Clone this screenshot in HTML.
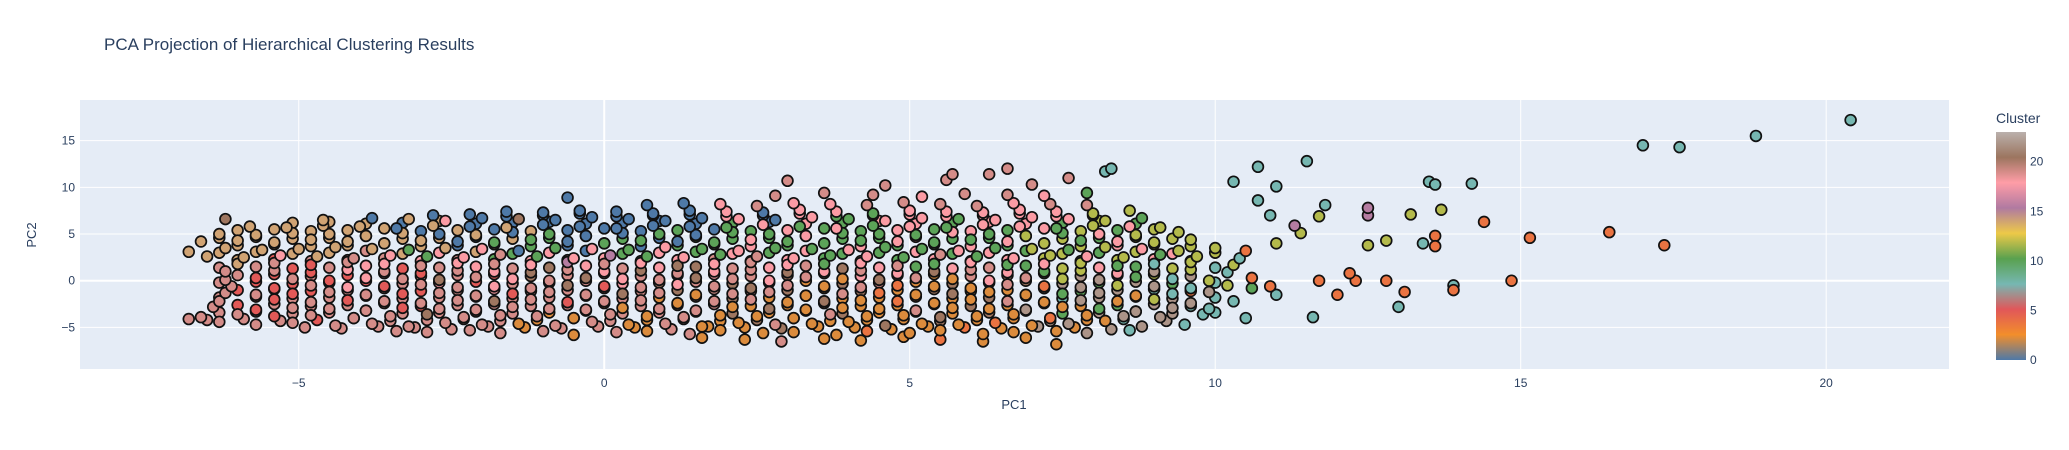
<!DOCTYPE html>
<html><head><meta charset="utf-8"><title>PCA Projection of Hierarchical Clustering Results</title>
<style>
html,body{margin:0;padding:0;background:#fff;}
svg{display:block;font-family:"Liberation Sans",Arial,sans-serif;}
</style></head>
<body>
<svg id="chart" width="2069" height="450" viewBox="0 0 2069 450">
<defs>
<linearGradient id="cbgrad" x1="0" y1="1" x2="0" y2="0">
<stop offset="0" stop-color="#4e79a7"/><stop offset="0.111" stop-color="#f28e2b"/><stop offset="0.222" stop-color="#e15759"/><stop offset="0.333" stop-color="#76b7b2"/><stop offset="0.444" stop-color="#59a14f"/><stop offset="0.556" stop-color="#edc948"/><stop offset="0.667" stop-color="#b07aa1"/><stop offset="0.778" stop-color="#ff9da7"/><stop offset="0.889" stop-color="#9c755f"/><stop offset="1" stop-color="#bab0ac"/>
</linearGradient>
</defs>
<rect x="0" y="0" width="2069" height="450" fill="#fff"/>
<text x="104" y="50" font-size="17" fill="#2a3f5f">PCA Projection of Hierarchical Clustering Results</text>
<rect x="80" y="100" width="1869" height="269" fill="#e5ecf6"/>
<g id="grid"></g>
<g id="xticks"></g>
<g id="yticks"></g>
<svg x="80" y="100" width="1869" height="269" overflow="hidden"><g id="points" transform="translate(-80,-100)"></g></svg>
<text x="1014" y="409" font-size="13" fill="#2a3f5f" text-anchor="middle">PC1</text>
<text x="0" y="0" font-size="13" fill="#2a3f5f" text-anchor="middle" transform="translate(36,235) rotate(-90)">PC2</text>
<text x="1996" y="123" font-size="14" fill="#2a3f5f">Cluster</text>
<rect x="1996" y="132" width="30" height="228" fill="url(#cbgrad)"/>
<g id="cbticks"></g>
</svg>
<script>
const xTicks = [-5, 0, 5, 10, 15, 20];
const yTicks = [-5, 0, 5, 10, 15];
const cbTicks = [0, 5, 10, 15, 20];
const xs = [
1.6,2.3,2.9,3.6,4.2,4.9,5.5,6.2,6.9,7.4,
-3.4,-2.9,-2.2,-1.7,-1.0,-0.5,0.2,0.7,1.4,1.9,2.6,3.1,3.8,4.3,5.0,5.5,6.2,6.7,7.4,7.9,8.6,
-6.3,-5.7,-5.1,-4.4,-3.8,-3.2,-2.6,-2.0,-1.4,-0.8,-0.2,0.4,1.0,1.6,2.2,2.8,3.4,4.0,4.6,5.2,5.8,6.4,7.0,7.6,8.2,8.8,9.5,
-6.6,-6.0,-5.4,-4.8,-4.1,-3.5,-2.9,-2.3,-1.7,-1.1,-0.5,0.1,0.7,1.3,1.9,2.5,3.1,3.7,4.3,4.9,5.5,6.1,6.7,7.3,7.9,8.5,9.1,9.8,
-6.4,-5.7,-5.1,-4.5,-3.9,-3.3,-2.7,-2.1,-1.5,-0.9,-0.3,0.3,0.9,1.5,2.1,2.7,3.3,3.9,4.5,5.1,5.7,6.3,6.9,7.5,8.1,8.7,9.3,9.9,10.5,
-6.3,-5.4,-4.8,-4.2,-3.6,-3.0,-2.4,-1.8,-1.2,-0.6,0.0,0.6,1.2,1.8,2.4,3.0,3.6,4.2,4.8,5.4,6.0,6.6,7.2,7.8,8.4,9.0,9.6,10.3,11.0,
-6.2,-5.7,-5.1,-4.5,-3.9,-3.3,-2.7,-2.1,-1.5,-0.9,-0.3,0.3,0.9,1.5,2.1,2.7,3.3,3.9,4.5,5.1,5.7,6.3,6.9,7.5,8.1,8.7,9.3,9.9,10.6,
-6.1,-5.4,-4.8,-4.2,-3.6,-3.0,-2.4,-1.8,-1.2,-0.6,0.0,0.6,1.2,1.8,2.4,3.0,3.6,4.2,4.8,5.4,6.0,6.6,7.2,7.8,8.4,9.0,9.6,10.2,10.9,
-6.2,-5.7,-5.1,-4.5,-3.9,-3.3,-2.7,-2.1,-1.5,-0.9,-0.3,0.3,0.9,1.5,2.1,2.7,3.3,3.9,4.5,5.1,5.7,6.3,6.9,7.5,8.1,8.7,9.3,9.9,10.6,
-6.2,-5.4,-4.8,-4.2,-3.6,-3.0,-2.4,-1.8,-1.2,-0.6,0.0,0.6,1.2,1.8,2.4,3.0,3.6,4.2,4.8,5.4,6.0,6.6,7.2,7.8,8.4,9.0,9.6,10.2,
-6.0,-5.4,-4.8,-4.2,-3.6,-3.0,-2.4,-1.8,-1.2,-0.6,0.0,0.6,1.2,1.8,2.4,3.0,3.6,4.2,4.8,5.4,6.0,6.6,7.2,7.8,8.4,9.0,9.6,10.3,
-6.5,-5.9,-5.3,-4.7,-4.1,-3.5,-2.9,-2.3,-1.7,-1.1,-0.5,0.1,0.7,1.3,1.9,2.5,3.1,3.7,4.3,4.9,5.5,6.1,6.7,7.3,7.9,8.5,9.1,9.7,10.4,
-6.8,-6.2,-5.6,-5.0,-4.4,-3.8,-3.2,-2.6,-2.0,-1.4,-0.8,-0.2,0.4,1.0,1.6,2.2,2.8,3.4,4.0,4.6,5.2,5.8,6.4,7.0,7.6,8.2,8.8,9.4,10.0,
-6.6,-6.0,-5.4,-4.8,-4.2,-3.6,-3.0,-2.4,-1.8,-1.2,-0.6,0.0,0.6,1.2,1.8,2.4,3.0,3.6,4.2,4.8,5.4,6.0,6.6,7.2,7.8,8.4,9.0,9.6,
-6.3,-5.7,-5.1,-4.5,-3.9,-3.3,-2.7,-2.1,-1.5,-0.9,-0.3,0.3,0.9,1.5,2.1,2.7,3.3,3.9,4.5,5.1,5.7,6.3,6.9,7.5,8.1,8.7,9.4,
-5.8,-5.2,-4.6,-4.0,-3.4,-2.8,-2.2,-1.6,-1.0,-0.4,0.2,0.8,1.4,2.0,2.6,3.2,3.8,4.4,5.0,5.6,6.2,6.8,7.4,8.0,8.6,9.1,
-6.2,-4.6,-3.8,-3.2,-2.6,-2.0,-1.4,-0.8,-0.2,0.4,1.0,1.6,2.2,2.8,3.4,4.0,4.6,5.2,5.8,6.4,7.0,7.6,8.2,8.8,
-1.6,-1.0,-0.4,0.2,0.8,1.4,2.0,2.6,3.2,3.8,4.4,5.0,5.6,6.2,6.8,7.4,8.0,8.6,
-0.6,0.7,1.3,1.9,2.5,3.1,3.7,4.3,4.9,5.5,6.1,6.7,7.3,7.9,
2.8,3.6,4.4,5.2,5.9,6.6,7.2,7.9,
3.0,4.6,5.6,6.3,7.0,7.6,8.2,
5.7,6.6,8.3,-6.8,
17.0,17.6,18.85,20.4,16.45,17.35,15.15,14.85,14.4,13.9,13.9,14.2,13.7,13.5,13.6,13.6,13.6,13.4,13.0,13.1,13.2,12.8,12.8,12.5,12.5,12.5,12.3,12.2,12.0,11.8,11.7,11.4,11.5,11.6,11.7,11.3,10.9,11.0,10.7,10.7,11.0,10.3,10.5
];
const ys = [
-6.1,-6.3,-6.5,-6.2,-6.4,-6.0,-6.3,-6.5,-6.1,-6.8,
-5.4,-5.5,-5.3,-5.6,-5.4,-5.8,-5.5,-5.4,-5.7,-5.3,-5.6,-5.5,-5.8,-5.4,-5.6,-5.3,-5.7,-5.5,-5.4,-5.6,-5.3,
-4.4,-4.7,-4.5,-4.8,-4.6,-4.9,-4.5,-4.7,-4.6,-4.8,-4.4,-4.7,-4.6,-4.9,-4.5,-4.7,-4.6,-4.4,-4.8,-4.6,-4.7,-4.5,-4.8,-4.6,-4.3,-4.9,-4.7,
-3.9,-3.6,-3.8,-3.7,-4.0,-3.8,-3.6,-3.9,-3.7,-3.8,-4.0,-3.6,-3.8,-3.9,-3.7,-3.8,-4.0,-3.6,-3.8,-3.7,-3.9,-3.8,-3.6,-4.0,-3.7,-3.8,-3.9,-3.6,
-2.8,-3.1,-2.9,-3.0,-3.2,-2.9,-3.0,-3.1,-2.8,-3.0,-3.1,-2.9,-3.0,-3.2,-2.8,-3.0,-3.1,-2.9,-3.0,-3.2,-2.9,-3.0,-3.1,-2.8,-3.0,-3.3,-2.9,-3.0,-4.0,
-2.2,-2.0,-2.3,-2.1,-2.2,-2.4,-2.1,-2.2,-2.0,-2.3,-2.2,-2.1,-2.4,-2.2,-2.0,-2.3,-2.2,-2.1,-2.2,-2.4,-2.0,-2.2,-2.3,-2.1,-2.2,-2.0,-2.4,-2.2,-1.5,
-1.3,-1.5,-1.4,-1.2,-1.5,-1.4,-1.3,-1.6,-1.4,-1.2,-1.5,-1.4,-1.3,-1.5,-1.4,-1.2,-1.6,-1.4,-1.3,-1.5,-1.4,-1.2,-1.5,-1.4,-1.3,-1.6,-1.4,-1.2,-0.8,
-0.6,-0.8,-0.5,-0.7,-0.6,-0.4,-0.7,-0.6,-0.8,-0.5,-0.6,-0.7,-0.4,-0.6,-0.8,-0.5,-0.6,-0.7,-0.5,-0.6,-0.8,-0.4,-0.6,-0.7,-0.5,-0.6,-0.8,-0.5,-0.6,
0.1,0.3,0.2,0.0,0.3,0.2,0.1,0.4,0.2,0.0,0.3,0.2,0.1,0.3,0.2,0.0,0.4,0.2,0.1,0.3,0.2,0.0,0.3,0.2,0.1,0.4,0.2,0.0,0.3,
1.0,1.1,0.9,1.2,1.0,0.8,1.1,1.0,0.9,1.2,1.0,1.1,0.8,1.0,1.2,0.9,1.0,1.1,0.8,1.0,1.2,0.9,1.0,1.1,0.8,1.0,1.2,0.9,
1.8,1.9,1.7,2.0,1.8,1.6,1.9,1.8,1.7,2.0,1.8,1.9,1.6,1.8,2.0,1.7,1.8,1.9,1.6,1.8,2.0,1.7,1.8,1.9,1.6,1.8,2.0,1.7,
2.6,2.5,2.7,2.6,2.4,2.7,2.6,2.5,2.8,2.6,2.4,2.7,2.6,2.5,2.8,2.6,2.4,2.7,2.6,2.5,2.8,2.6,2.4,2.7,2.6,2.5,2.8,2.6,2.4,
3.1,3.5,3.3,3.4,3.6,3.4,3.3,3.5,3.4,3.2,3.5,3.4,3.3,3.6,3.4,3.2,3.5,3.4,3.3,3.6,3.4,3.2,3.5,3.4,3.3,3.6,3.4,3.2,3.5,
4.2,4.3,4.1,4.4,4.2,4.0,4.3,4.2,4.1,4.4,4.2,4.0,4.3,4.2,4.1,4.4,4.2,4.0,4.3,4.2,4.1,4.4,4.2,4.0,4.3,4.2,4.1,4.4,
5.0,4.9,5.1,5.0,4.8,5.1,5.0,4.9,5.2,5.0,4.8,5.1,5.0,4.9,5.2,5.0,4.8,5.1,5.0,4.9,5.2,5.0,4.8,5.1,5.0,4.9,5.2,
5.8,5.7,5.9,5.8,5.6,5.9,5.8,5.7,6.0,5.8,5.6,5.9,5.8,5.7,6.0,5.8,5.6,5.9,5.8,5.7,6.0,5.8,5.6,5.9,5.8,5.7,
6.6,6.5,6.7,6.6,6.4,6.7,6.6,6.5,6.8,6.6,6.4,6.7,6.6,6.5,6.8,6.6,6.4,6.7,6.6,6.5,6.8,6.6,6.4,6.7,
7.4,7.3,7.5,7.4,7.2,7.5,7.4,7.3,7.6,7.4,7.2,7.5,7.4,7.3,7.6,7.4,7.2,7.5,
8.9,8.1,8.3,8.2,8.0,8.3,8.2,8.1,8.4,8.2,8.0,8.3,8.2,8.1,
9.1,9.4,9.2,9.0,9.3,9.2,9.1,9.4,
10.7,10.2,10.8,11.4,10.3,11.0,11.7,
11.4,12.0,12.0,-4.1,
14.5,14.3,15.5,17.2,5.2,3.8,4.6,0.0,6.3,-0.5,-1.0,10.4,7.6,10.6,4.8,3.7,10.3,4.0,-2.8,-1.2,7.1,0.0,4.3,3.8,7.0,7.8,0.0,0.8,-1.5,8.1,6.9,5.1,12.8,-3.9,0.0,5.9,7.0,10.1,12.2,8.6,4.0,10.6,3.2
];
const clusters = [
2.2,2.2,19,2.2,2.2,2.2,3.8,2.2,2.2,2.2,
19,19,19,19,19,2.2,19,2.2,19,2.2,2.2,2.2,2.2,3.8,2.2,2.2,2.2,2.2,2.2,21.8,7.7,
19,19,19,19,19,19,19,19,2.2,19,19,2.2,19,2.2,2.2,19,2.2,2.2,20.4,2.2,2.2,3.8,2.2,21.8,2.2,21.8,7.7,
19,19,5,19,19,19,20.4,19,19,19,2.2,19,2.2,19,2.2,2.2,2.2,19,2.2,2.2,20.4,2.2,2.2,3.8,2.2,21.8,21.8,7.7,
19,5,19,19,19,5,19,19,19,19,19,2.2,19,19,2.2,20.4,2.2,2.2,2.2,19,2.2,2.2,21.8,2.2,10,21.8,21.8,7.7,7.7,
19,5,19,5,19,19,19,20.4,19,5,19,19,2.2,19,19,2.2,20.4,2.2,3.8,2.2,2.2,19,2.2,21.8,2.2,11.8,21.8,7.7,7.7,
19,19,5,19,19,5,19,19,5,19,19,20.4,19,2.2,19,19,2.2,19,3.8,2.2,20.4,2.2,2.2,10,21.8,2.2,7.7,21.8,10,
19,5,19,18,5,19,19,18,19,20.4,5,19,18,19,20.4,19,2.2,19,3.8,2.2,2.2,19,3.8,21.8,11.8,21.8,7.7,11.8,3.8,
19,5,19,5,18,19,20.4,19,18,19,20.4,18,19,20.4,19,18,19,2.2,20.4,19,2.2,18,19,11.8,21.8,10,7.7,11.8,3.8,
19,19,5,18,19,5,19,18,20.4,19,18,20.4,19,18,19,20.4,18,19,18,20.4,19,18,10,11.8,18,21.8,11.8,7.7,
14,19,5,19,18,19,18,19,18,15.5,19,18,20.4,18,19,18,10,18,19,10,18,10,18,11.8,10,7.7,11.8,11.8,
14,14,18,14,19,18,10,18,19,10,18,15.5,10,18,10,19,18,10,18,10,19,10,18,11.8,18,11.8,10,11.8,7.7,
14,14,14,14,14,14,10,14,18,0,10,18,10,18,10,18,10,10,18,10,10,18,10,11.8,10,11.8,18,11.8,11.8,
14,14,14,14,14,14,14,0,10,10,0,10,10,0,10,18,10,10,10,18,10,10,18,11.8,10,18,11.8,11.8,
14,14,14,14,14,14,0,14,0,10,0,0,10,0,10,10,18,10,10,10,18,10,11.8,10,18,11.8,11.8,
14,14,14,14,0,14,0,14,0,0,0,0,0,10,18,10,18,10,18,10,18,18,10,11.8,18,11.8,
20.4,14,0,14,18,0,20.4,0,0,0,0,0,18,0,18,10,18,18,10,18,18,18,11.8,10,
0,0,0,0,0,0,18,0,18,18,10,18,18,18,18,18,11.8,11.8,
0,0,0,18,19,18,18,19,19,19,19,18,19,19,
19,19,19,18,19,19,18,10,
19,19,19,19,19,19,7.7,
19,19,7.7,19,
7.7,7.7,7.7,7.7,3.8,3.8,3.8,3.8,3.8,7.7,3.8,7.7,11.8,7.7,3.8,3.8,7.7,7.7,7.7,3.8,11.8,3.8,11.8,11.8,15.5,15.5,3.8,3.8,3.8,7.7,11.8,11.8,7.7,7.7,3.8,15.5,7.7,7.7,7.7,7.7,11.8,7.7,3.8
];
const xs2 = [
-4.9,-4.3,-3.7,-3.1,-2.5,-1.9,-1.3,-0.7,-0.1,0.5,1.1,1.7,2.3,2.9,3.5,4.1,4.7,5.3,5.9,6.5,7.1,7.7,8.3,
-6.5,-5.9,-5.3,-4.7,-4.1,-3.5,-2.9,-2.3,-1.7,-1.1,-0.5,0.1,0.7,1.3,1.9,2.5,3.1,3.7,4.3,4.9,5.5,6.1,6.7,7.3,7.9,8.5,9.2,
-6.3,-5.7,-5.1,-4.5,-3.9,-3.3,-2.7,-2.1,-1.5,-0.9,-0.3,0.3,0.9,1.5,2.1,2.7,3.3,3.9,4.5,5.1,5.7,6.3,6.9,7.5,8.1,8.7,9.3,10.0,
-6.0,-5.4,-4.8,-4.2,-3.6,-3.0,-2.4,-1.8,-1.2,-0.6,0.0,0.6,1.2,1.8,2.4,3.0,3.6,4.2,4.8,5.4,6.0,6.6,7.2,7.8,8.4,9.0,9.6,
-6.3,-5.7,-5.1,-4.5,-3.9,-3.3,-2.7,-2.1,-1.5,-0.9,-0.3,0.3,0.9,1.5,2.1,2.7,3.3,3.9,4.5,5.1,5.7,6.3,6.9,7.5,8.1,8.7,9.3,10.0,
-6.0,-5.4,-4.8,-4.2,-3.6,-3.0,-2.4,-1.8,-1.2,-0.6,0.0,0.6,1.2,1.8,2.4,3.0,3.6,4.2,4.8,5.4,6.0,6.6,7.2,7.8,8.4,9.0,9.6,
-6.3,-5.7,-5.1,-4.5,-3.9,-3.3,-2.7,-2.1,-1.5,-0.9,-0.3,0.3,0.9,1.5,2.1,2.7,3.3,3.9,4.5,5.1,5.7,6.3,6.9,7.5,8.1,8.7,9.3,10.0,
-6.0,-5.4,-4.8,-4.2,-3.6,-3.0,-2.4,-1.8,-1.2,-0.6,0.0,0.6,1.2,1.8,2.4,3.0,3.6,4.2,4.8,5.4,6.0,6.6,7.2,7.8,8.4,9.0,9.6,
-6.3,-5.7,-5.1,-4.5,-3.9,-3.3,-2.7,-2.1,-1.5,-0.9,-0.3,0.3,0.9,1.5,2.1,2.7,3.3,3.9,4.5,5.1,5.7,6.3,6.9,7.5,8.1,8.7,9.3,10.0,
-6.0,-5.4,-4.8,-4.2,-3.6,-3.0,-2.4,-1.8,-1.2,-0.6,0.0,0.6,1.2,1.8,2.4,3.0,3.6,4.2,4.8,5.4,6.0,6.6,7.2,7.8,8.4,9.0,9.6,
-6.3,-5.7,-5.1,-4.5,-3.9,-3.3,-2.7,-2.1,-1.5,-0.9,-0.3,0.3,0.9,1.5,2.1,2.7,3.3,3.9,4.5,5.1,5.7,6.3,6.9,7.5,8.1,8.7,9.3,10.0,
-6.0,-5.4,-4.8,-4.2,-3.6,-3.0,-2.4,-1.8,-1.2,-0.6,0.0,0.6,1.2,1.8,2.4,3.0,3.6,4.2,4.8,5.4,6.0,6.6,7.2,7.8,8.4,9.0,9.6,
-6.3,-5.7,-5.1,-4.5,-3.9,-3.3,-2.7,-2.1,-1.5,-0.9,-0.3,0.3,0.9,1.5,2.1,2.7,3.3,3.9,4.5,5.1,5.7,6.3,6.9,7.5,8.1,8.7,9.3,
-6.0,-5.4,-4.8,-4.2,-3.6,-3.0,-2.4,-1.8,-1.2,-0.6,0.0,0.6,1.2,1.8,2.4,3.0,3.6,4.2,4.8,5.4,6.0,6.6,7.2,7.8,8.4,9.0,
-5.1,-4.5,-3.9,-3.3,-2.7,-2.1,-1.5,-0.9,-0.3,0.3,0.9,1.5,2.1,2.7,3.3,3.9,4.5,5.1,5.7,6.3,6.9,7.5,8.1,8.7,
-2.8,-2.2,-1.6,-1.0,-0.4,0.2,0.8,1.4,2.0,2.6,3.2,3.8,4.4,5.0,5.6,6.2,6.8,7.4,8.0
];
const ys2 = [
-5.0,-5.1,-4.9,-5.0,-5.2,-4.9,-5.0,-5.1,-4.9,-5.0,-5.2,-4.9,-5.0,-5.1,-4.9,-5.0,-5.2,-4.9,-5.0,-5.1,-4.9,-5.0,-5.2,
-4.2,-4.1,-4.3,-4.2,-4.0,-4.3,-4.2,-4.1,-4.3,-4.2,-4.0,-4.3,-4.2,-4.1,-4.3,-4.2,-4.0,-4.3,-4.2,-4.1,-4.3,-4.2,-4.0,-4.3,-4.2,-4.1,-4.3,
-3.4,-3.3,-3.5,-3.4,-3.2,-3.5,-3.4,-3.3,-3.5,-3.4,-3.2,-3.5,-3.4,-3.3,-3.5,-3.4,-3.2,-3.5,-3.4,-3.3,-3.5,-3.4,-3.2,-3.5,-3.4,-3.3,-3.5,-3.4,
-2.6,-2.5,-2.7,-2.6,-2.4,-2.7,-2.6,-2.5,-2.7,-2.6,-2.4,-2.7,-2.6,-2.5,-2.7,-2.6,-2.4,-2.7,-2.6,-2.5,-2.7,-2.6,-2.4,-2.7,-2.6,-2.5,-2.7,
-1.8,-1.7,-1.9,-1.8,-1.6,-1.9,-1.8,-1.7,-1.9,-1.8,-1.6,-1.9,-1.8,-1.7,-1.9,-1.8,-1.6,-1.9,-1.8,-1.7,-1.9,-1.8,-1.6,-1.9,-1.8,-1.7,-1.9,-1.8,
-1.0,-0.9,-1.1,-1.0,-0.8,-1.1,-1.0,-0.9,-1.1,-1.0,-0.8,-1.1,-1.0,-0.9,-1.1,-1.0,-0.8,-1.1,-1.0,-0.9,-1.1,-1.0,-0.8,-1.1,-1.0,-0.9,-1.1,
-0.2,-0.1,-0.3,-0.2,0.0,-0.3,-0.2,-0.1,-0.3,-0.2,0.0,-0.3,-0.2,-0.1,-0.3,-0.2,0.0,-0.3,-0.2,-0.1,-0.3,-0.2,0.0,-0.3,-0.2,-0.1,-0.3,-0.2,
0.6,0.7,0.5,0.6,0.8,0.5,0.6,0.7,0.5,0.6,0.8,0.5,0.6,0.7,0.5,0.6,0.8,0.5,0.6,0.7,0.5,0.6,0.8,0.5,0.6,0.7,0.5,
1.4,1.5,1.3,1.4,1.6,1.3,1.4,1.5,1.3,1.4,1.6,1.3,1.4,1.5,1.3,1.4,1.6,1.3,1.4,1.5,1.3,1.4,1.6,1.3,1.4,1.5,1.3,1.4,
2.2,2.3,2.1,2.2,2.4,2.1,2.2,2.3,2.1,2.2,2.4,2.1,2.2,2.3,2.1,2.2,2.4,2.1,2.2,2.3,2.1,2.2,2.4,2.1,2.2,2.3,2.1,
3.0,3.1,2.9,3.0,3.2,2.9,3.0,3.1,2.9,3.0,3.2,2.9,3.0,3.1,2.9,3.0,3.2,2.9,3.0,3.1,2.9,3.0,3.2,2.9,3.0,3.1,2.9,3.0,
3.8,3.9,3.7,3.8,4.0,3.7,3.8,3.9,3.7,3.8,4.0,3.7,3.8,3.9,3.7,3.8,4.0,3.7,3.8,3.9,3.7,3.8,4.0,3.7,3.8,3.9,3.7,
4.6,4.7,4.5,4.6,4.8,4.5,4.6,4.7,4.5,4.6,4.8,4.5,4.6,4.7,4.5,4.6,4.8,4.5,4.6,4.7,4.5,4.6,4.8,4.5,4.6,4.7,4.5,
5.4,5.5,5.3,5.4,5.6,5.3,5.4,5.5,5.3,5.4,5.6,5.3,5.4,5.5,5.3,5.4,5.6,5.3,5.4,5.5,5.3,5.4,5.6,5.3,5.4,5.5,
6.2,6.3,6.1,6.2,6.4,6.1,6.2,6.3,6.1,6.2,6.4,6.1,6.2,6.3,6.1,6.2,6.4,6.1,6.2,6.3,6.1,6.2,6.4,6.1,
7.0,7.1,6.9,7.0,7.2,6.9,7.0,7.1,6.9,7.0,7.2,6.9,7.0,7.1,6.9,7.0,7.2,6.9,7.0
];
const clusters2 = [
19,19,19,19,19,19,2.2,19,19,2.2,19,2.2,2.2,20.4,2.2,2.2,2.2,2.2,3.8,2.2,21.8,2.2,21.8,
19,19,19,5,19,19,19,19,19,2.2,19,19,2.2,19,2.2,20.4,2.2,2.2,2.2,2.2,20.4,2.2,2.2,21.8,2.2,7.7,21.8,
19,19,19,19,5,19,19,19,19,2.2,19,19,19,2.2,20.4,2.2,2.2,20.4,2.2,2.2,2.2,20.4,2.2,10,21.8,2.2,21.8,7.7,
5,19,19,19,19,5,19,19,19,19,2.2,19,20.4,19,2.2,2.2,20.4,2.2,2.2,2.2,20.4,2.2,21.8,2.2,10,21.8,7.7,
19,5,19,19,5,19,19,5,19,19,20.4,19,2.2,19,20.4,2.2,20.4,2.2,2.2,3.8,2.2,20.4,2.2,7.7,21.8,10,21.8,7.7,
5,19,5,19,19,5,19,18,19,19,5,19,20.4,19,19,20.4,2.2,20.4,2.2,20.4,2.2,2.2,21.8,10,21.8,7.7,3.8,
19,5,5,19,5,19,18,5,19,20.4,19,18,20.4,19,20.4,19,2.2,20.4,19,2.2,20.4,2.2,20.4,21.8,10,21.8,10,7.7,
19,5,19,5,19,18,19,5,20.4,19,18,19,20.4,18,19,20.4,19,18,20.4,2.2,19,20.4,10,21.8,7.7,11.8,21.8,
19,19,5,19,18,5,19,18,19,20.4,18,19,18,20.4,19,18,19,20.4,18,10,18,19,10,11.8,18,10,11.8,7.7,
14,5,19,18,19,18,19,10,18,19,18,10,18,19,10,18,10,18,10,18,10,18,11.8,10,11.8,18,11.8,
14,14,14,14,19,14,18,14,10,18,0,10,18,10,18,10,18,10,10,18,10,18,10,11.8,10,11.8,18,11.8,
14,14,14,14,14,14,0,14,10,0,10,0,10,10,18,10,10,18,10,10,18,10,10,11.8,18,11.8,11.8,
14,14,14,14,14,14,14,0,14,10,0,10,0,10,10,10,18,10,10,18,10,10,18,11.8,10,11.8,11.8,
14,14,14,14,14,0,14,0,14,0,0,0,10,0,10,18,10,10,18,10,18,10,18,11.8,10,11.8,
14,14,14,0,14,0,0,0,0,0,0,0,10,0,18,10,18,18,10,18,18,10,11.8,10,
0,0,0,0,0,0,0,0,18,0,18,10,18,18,18,18,18,18,11.8
];

const NS = 'http://www.w3.org/2000/svg';
const X0 = 80, X1 = 1949, Y0 = 100, Y1 = 369;
const xMin = -8.58, xMax = 22.01, yMin = -9.45, yMax = 19.35;
const cMin = 0, cMax = 23;
function sx(v){ return X0 + (v - xMin) / (xMax - xMin) * (X1 - X0); }
function sy(v){ return Y1 - (v - yMin) / (yMax - yMin) * (Y1 - Y0); }
const palette = ['#4e79a7','#f28e2b','#e15759','#76b7b2','#59a14f','#edc948','#b07aa1','#ff9da7','#9c755f','#bab0ac'];
function hex(h){ return [parseInt(h.slice(1,3),16),parseInt(h.slice(3,5),16),parseInt(h.slice(5,7),16)]; }
function colorOf(v){
  let t = Math.max(0, Math.min(1, (v - cMin) / (cMax - cMin))) * (palette.length - 1);
  let i = Math.min(palette.length - 2, Math.floor(t)), f = t - i;
  const a = hex(palette[i]), b = hex(palette[i+1]);
  return 'rgb(' + a.map((c,k)=>Math.round(c + (b[k]-c)*f)).join(',') + ')';
}
function mk(tag, attrs){ const e = document.createElementNS(NS, tag); for (const k in attrs) e.setAttribute(k, attrs[k]); return e; }

const grid = document.getElementById('grid');
xTicks.forEach(v => {
  const l = mk('line', {x1: sx(v), x2: sx(v), y1: Y0, y2: Y1, stroke: '#fff', 'stroke-width': v === 0 ? 2 : 1});
  
  
  grid.appendChild(l);
});
yTicks.forEach(v => {
  const l = mk('line', {x1: X0, x2: X1, y1: sy(v), y2: sy(v), stroke: '#fff', 'stroke-width': v === 0 ? 2 : 1});
  
  
  grid.appendChild(l);
});
const xt = document.getElementById('xticks');
xTicks.forEach(v => {
  const t = mk('text', {x: sx(v), y: 387, 'font-size': 12, fill: '#2a3f5f', 'text-anchor': 'middle'});
  t.textContent = v < 0 ? '\u2212' + Math.abs(v) : String(v);
  
  
  xt.appendChild(t);
});
const yt = document.getElementById('yticks');
yTicks.forEach(v => {
  const t = mk('text', {x: 75, y: sy(v) + 4, 'font-size': 12, fill: '#2a3f5f', 'text-anchor': 'end'});
  t.textContent = v < 0 ? '\u2212' + Math.abs(v) : String(v);
  
  
  yt.appendChild(t);
});
const pts = document.getElementById('points');
function drawSeries(X, Y, C){
  const n = Math.min(X.length, Y.length, C.length);
  for (let i = 0; i < n; i++) {
    const c = mk('circle', {cx: sx(X[i]), cy: sy(Y[i]), r: 5.4, fill: colorOf(C[i]), stroke: '#111', 'stroke-width': 1.7});
    
    
    pts.appendChild(c);
  }
}
drawSeries(xs2, ys2, clusters2);
drawSeries(xs, ys, clusters);
const cb = document.getElementById('cbticks');
cbTicks.forEach(v => {
  const y = 360 - (v - cMin) / (cMax - cMin) * 228;
  const t = mk('text', {x: 2030, y: y + 4, 'font-size': 12, fill: '#2a3f5f'});
  t.textContent = String(v);
  
  
  cb.appendChild(t);
});
</script>
</body></html>
